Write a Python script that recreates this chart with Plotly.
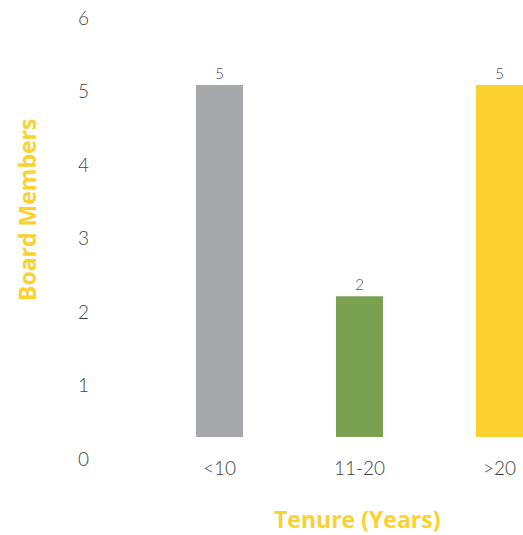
import plotly.graph_objects as go

categories = ["<10", "11-20", ">20"]
members = [5, 2, 5]
bar_colors = ["#A7A8AB", "#7AA051", "#FCD02F"]
y_ticks = [0, 1, 2, 3, 4, 5, 6]
x_title = "Tenure (Years)"
y_title = "Board Members"

x_idx = list(range(len(categories)))

L, T, B, W, H = 90, 18, 76, 523, 535
pw, ph = W - L, H - T - B


def px_to_paper(px, py):
    return (px - L) / pw, (H - B - py) / ph


fig = go.Figure()
# empty trace so the tick axis (y) is drawn
fig.add_trace(go.Scatter(x=[], y=[], showlegend=False, hoverinfo="skip"))
fig.add_trace(go.Bar(
    x=x_idx, y=members, width=0.336,
    marker=dict(color=bar_colors, line=dict(width=0)),
    text=[str(v) for v in members], textposition="outside",
    textfont=dict(size=15, color="#555555", family="Lato", weight=300),
    cliponaxis=False, yaxis="y2", showlegend=False,
))

title_font = dict(size=23, color="#FBD130", family="Open Sans", weight=700)
xt = px_to_paper(357, 519)
yt = px_to_paper(27, 210)

fig.update_layout(
    width=W, height=H,
    margin=dict(l=L, r=0, t=T, b=B),
    paper_bgcolor="white", plot_bgcolor="white",
    font=dict(family="Lato", color="#444444"),
    xaxis=dict(
        range=[(L - 219.5) / 140, (W - 219.5) / 140],
        tickmode="array", tickvals=x_idx, ticktext=categories,
        showgrid=False, zeroline=False, showline=False, ticks="",
        ticklabelstandoff=-4,
        tickfont=dict(size=19, color="#444444", family="Lato", weight=300),
    ),
    yaxis=dict(
        range=[0, 6], tickmode="array", tickvals=y_ticks,
        showgrid=False, zeroline=False, showline=False, ticks="",
        tickfont=dict(size=19, color="#444444", family="Lato", weight=300),
    ),
    yaxis2=dict(
        overlaying="y", visible=False,
        range=[-(459 - 437) / 70.4, (437 - 18) / 70.4],
    ),
    annotations=[
        dict(text=x_title, xref="paper", yref="paper", x=xt[0], y=xt[1],
             xanchor="center", yanchor="middle", showarrow=False, font=title_font),
        dict(text=y_title, xref="paper", yref="paper", x=yt[0], y=yt[1],
             xanchor="center", yanchor="middle", showarrow=False, textangle=-90,
             font=title_font),
    ],
)

fig.write_html("out.html")
